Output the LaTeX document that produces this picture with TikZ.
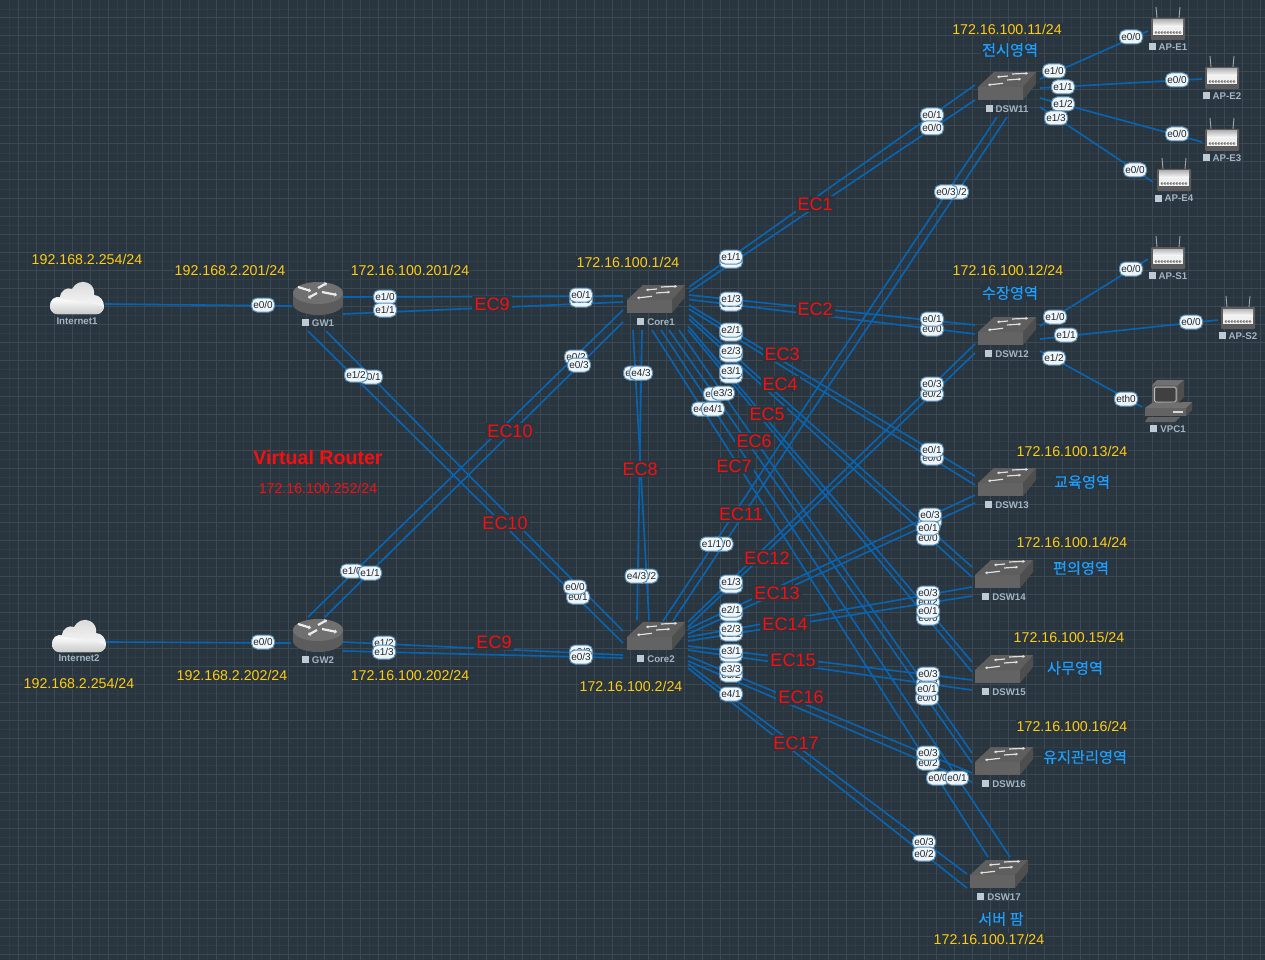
\documentclass[tikz,border=0pt]{standalone}
\usepackage{fontspec}
\setmainfont{Liberation Sans}
\newfontfamily\kr[FakeBold=0.35]{Noto Sans CJK KR}
\usetikzlibrary{calc,arrows.meta}
\definecolor{bg}{HTML}{2A363F}
\definecolor{gmin}{HTML}{303C46}
\definecolor{gmaj}{HTML}{3C4953}
\definecolor{linkc}{HTML}{0864B0}
\definecolor{yel}{HTML}{FFCB14}
\definecolor{blu}{HTML}{1E9EFF}
\definecolor{rd}{HTML}{F80E0E}
\definecolor{pillf}{HTML}{EEF6FD}
\definecolor{pilld}{HTML}{5C8FB5}
\definecolor{devt}{HTML}{A3B5C2}
\definecolor{sq}{HTML}{BFCAD2}
\definecolor{tops}{HTML}{5E5E5E}
\definecolor{front}{HTML}{636363}
\definecolor{sides}{HTML}{4E4E4E}
\definecolor{rtop}{HTML}{707070}
\definecolor{rbody}{HTML}{5C5C5C}
\definecolor{apb}{HTML}{5C5C5C}
\tikzset{
  link/.style={draw=linkc,line width=1.65pt},
  dev/.style={inner sep=0pt,minimum size=0pt},
  port/.style={draw=pilld,line width=1pt,fill=pillf,rounded corners=5.5pt,minimum width=23pt,minimum height=14pt,inner sep=0pt,font=\fontsize{10}{11}\selectfont,text=black!85},
  devlab/.style={font=\fontsize{9.7}{10}\selectfont\bfseries,text=devt,inner sep=0pt},
  addr/.style={font=\fontsize{14.2}{15}\selectfont,text=yel,fill=bg,inner sep=1pt},
  area/.style={font=\fontsize{15.2}{16}\selectfont\kr,text=blu,fill=bg,inner sep=1pt},
  ec/.style={font=\fontsize{18}{19}\selectfont,text=rd,fill=bg,inner sep=2pt},
  wa/.style={white!88!black,line width=1.2pt,-{Stealth[length=2.6pt,width=3.2pt]}},
  ra/.style={white!92!black,line width=2.2pt,-{Stealth[length=2.5pt,width=4.5pt]}},
}
\newcommand\devlabel[3]{\node[devlab] (#1l) at (#2) {\textcolor{sq}{\rule{7pt}{7pt}}\hspace{3pt}#3};}
\newcommand\swdev[4]{%
  \node[dev] (#1) at (#2,#3) {};
  \begin{scope}[shift={(#2,#3)}]
    \fill[front] (-29,1) rectangle (16,14);
    \fill[sides] (16,1) -- (29,-14) -- (29,-2) -- (16,14) -- cycle;
    \fill[tops] (-29,1) -- (-13,-14) -- (29,-14) -- (16,1) -- cycle;
    \draw[wa] (1,-10) -- (-10,-9);
    \draw[wa] (5,-12) -- (21,-12.7);
    \draw[wa] (0,-6) -- (14,-7);
    \draw[wa] (-4,-2.7) -- (-19,-1);
  \end{scope}
  \devlabel{#1}{#2,#3+23}{#4}}
\newcommand\rtdev[4]{%
  \node[dev] (#1) at (#2,#3) {};
  \begin{scope}[shift={(#2,#3)}]
    \fill[rbody] (-25,-6) -- (-25,5) .. controls (-25,11) and (-14,16) .. (0,16) .. controls (14,16) and (25,11) .. (25,5) -- (25,-6) -- cycle;
    \fill[rtop] (0,-6) ellipse[x radius=25,y radius=11];
    \draw[ra] (-20,-12) -- (-7,-8);
    \draw[ra] (0,-11) -- (9,-16);
    \draw[ra] (4,-7) -- (19,-4);
    \draw[ra] (-1,-6) -- (-10,-1);
  \end{scope}
  \devlabel{#1}{#2,#3+24}{#4}}
\newcommand\apdev[4]{%
  \node[dev] (#1) at (#2,#3) {};
  \begin{scope}[shift={(#2,#3)}]
    \draw[gray!70,line width=0.9pt] (-11,-11) -- (-12,-22);
    \draw[gray!70,line width=0.9pt] (11,-11) -- (12,-22);
    \fill[apb,rounded corners=1pt] (-17,-11) rectangle (17,11);
    \shade[top color=gray!55,bottom color=white] (-15,-9) rectangle (15,-2);
    \fill[white!94!black] (-15,-2) rectangle (15,6);
    \foreach \cx in {-12,-9,...,12} {\draw[black!65,line width=0.5pt] (\cx,3.5) circle[radius=1.1];}
  \end{scope}
  \devlabel{#1}{#2,#3+18}{#4}}
\newcommand\cloudpath{(7,33) .. controls (2,33) and (0,28) .. (0,25) .. controls (0,19) and (5,15) .. (10,16) .. controls (11,9) and (17,6) .. (22,8) .. controls (25,2) and (32,-1) .. (38,2) .. controls (43,4) and (45,10) .. (44,14) .. controls (50,14) and (54,20) .. (54,25) .. controls (54,30) and (50,33) .. (47,33) -- cycle}
\newcommand\clouddev[6]{%
  \node[dev] (#1) at (#2,#3) {};
  \begin{scope}[shift={(#4,#5)}]
    \shade[top color=gray!30,bottom color=white] \cloudpath;
    \begin{scope}
      \clip \cloudpath;
      \shade[top color=white,bottom color=gray!45] (0,17) .. controls (18,19) and (38,20) .. (54,26) -- (54,34) -- (0,34) -- cycle;
    \end{scope}
  \end{scope}
  \node[devlab] (#1l) at (#2,#3+23) {#6};}
\newcommand\lk[6]{\draw[link] ($(#1)+(#2,#3)$) -- ($(#4)+(#5,#6)$);}
\newcommand\pt[3]{\node[port] at (#1,#2) {#3};}
\begin{document}
\begin{tikzpicture}[x=1pt,y=-1pt]
\useasboundingbox (0,0) rectangle (1265,960);
\fill[bg] (0,0) rectangle (1265,960);
\foreach \g in {9,27,...,1260} {\draw[gmin,line width=0.8pt] (\g,0) -- (\g,960);}
\foreach \g in {9,27,...,955} {\draw[gmin,line width=0.8pt] (0,\g) -- (1265,\g);}
\foreach \g in {18,36,...,1260} {\draw[gmaj,line width=1pt] (\g,0) -- (\g,960);}
\foreach \g in {18,36,...,955} {\draw[gmaj,line width=1pt] (0,\g) -- (1265,\g);}

% devices
\clouddev{Inet1}{77}{298}{50}{281}{Internet1}
\clouddev{Inet2}{79}{635}{52}{619}{Internet2}
\rtdev{GW1}{318}{299}{GW1}
\rtdev{GW2}{318}{636}{GW2}
\swdev{Core1}{656}{299}{Core1}
\swdev{Core2}{656}{636}{Core2}
\swdev{DSW11}{1007}{86}{DSW11}
\swdev{DSW12}{1007}{331}{DSW12}
\swdev{DSW13}{1007}{482}{DSW13}
\swdev{DSW14}{1004}{574}{DSW14}
\swdev{DSW15}{1004}{669}{DSW15}
\swdev{DSW16}{1004}{761}{DSW16}
\swdev{DSW17}{999}{874}{DSW17}
\apdev{APE1}{1168}{29}{AP-E1}
\apdev{APE2}{1222}{78}{AP-E2}
\apdev{APE3}{1222}{140}{AP-E3}
\apdev{APE4}{1174}{180}{AP-E4}
\apdev{APS1}{1168}{258}{AP-S1}
\apdev{APS2}{1238}{318}{AP-S2}
% VPC
\node[dev] (VPC1) at (1168,401) {};
\begin{scope}[shift={(1168,401)}]
  \fill[sides] (10,-16) -- (16,-21) -- (16,-4) -- (10,2) -- cycle;
  \fill[rtop] (-16,-16) -- (-11,-21) -- (16,-21) -- (10,-16) -- cycle;
  \fill[front] (-16,-16) rectangle (10,2);
  \draw[gray!55,line width=1pt,fill=rbody!70!black,rounded corners=1.5pt] (-13.5,-14) rectangle (8,1);
  \fill[sides] (18,7) -- (24,1) -- (24,9) -- (18,15) -- cycle;
  \fill[rtop] (-23,7) -- (-16,2) -- (24,1) -- (18,7) -- cycle;
  \fill[front] (-23,7) rectangle (18,15);
  \fill[white!85!black] (5,10) rectangle (15,12);
  \fill[front] (-20,16) -- (12,16) -- (7,21) -- (-23,21) -- cycle;
\end{scope}
\devlabel{VPC1}{1168,429}{VPC1}

% links
\lk{Inet1}{28}{6}{GW1}{-26}{7}
\lk{Inet2}{27}{7}{GW2}{-27}{7}
\lk{GW1}{25}{-2}{Core1}{-33}{-3}
\lk{GW1}{25}{15}{Core1}{-33}{3}
\lk{GW2}{25}{6}{Core2}{-33}{19}
\lk{GW2}{25}{15}{Core2}{-33}{22}
\lk{GW2}{-10}{-19}{Core1}{-33}{11}
\lk{GW2}{7}{-19}{Core1}{-33}{23}
\lk{GW1}{-10}{32}{Core2}{-33}{7}
\lk{GW1}{8}{32}{Core2}{-33}{-5}
\lk{Core1}{-23}{31}{Core2}{-7}{-16}
\lk{Core1}{-14}{31}{Core2}{-19}{-16}
\lk{Core1}{33}{-12}{DSW11}{-32}{-1}
\lk{Core1}{33}{-7}{DSW11}{-32}{14}
\lk{Core1}{33}{-4}{DSW12}{-32}{-6}
\lk{Core1}{33}{0.5}{DSW12}{-32}{3}
\lk{Core1}{33}{6}{DSW13}{-32}{-6}
\lk{Core1}{33}{10}{DSW13}{-32}{3}
\lk{Core1}{33}{16}{DSW14}{-32}{-7}
\lk{Core1}{33}{20}{DSW14}{-32}{3}
\lk{Core1}{32}{27}{DSW15}{-32}{-7}
\lk{Core1}{32}{31}{DSW15}{-32}{3}
\lk{Core1}{23}{31}{DSW16}{-32}{-8}
\lk{Core1}{13}{31}{DSW16}{-32}{2}
\lk{Core1}{5}{31}{DSW17}{11}{-17}
\lk{Core1}{-4}{31}{DSW17}{-11}{-17}
\lk{Core2}{7}{-15}{DSW11}{-10}{31}
\lk{Core2}{17}{-15}{DSW11}{0}{31}
\lk{Core2}{32}{-14}{DSW12}{-32}{13}
\lk{Core2}{32}{-9}{DSW12}{-32}{22}
\lk{Core2}{32}{-7}{DSW13}{-32}{13}
\lk{Core2}{32}{-2}{DSW13}{-32}{21}
\lk{Core2}{32}{1}{DSW14}{-32}{13}
\lk{Core2}{32}{5}{DSW14}{-32}{22}
\lk{Core2}{32}{10}{DSW15}{-32}{11}
\lk{Core2}{32}{14}{DSW15}{-32}{21}
\lk{Core2}{32}{20}{DSW16}{-32}{12}
\lk{Core2}{32}{25}{DSW16}{-32}{21}
\lk{Core2}{32}{28}{DSW17}{-32}{0}
\lk{Core2}{32}{32}{DSW17}{-32}{14}
\lk{DSW11}{33}{-7}{APE1}{-20}{2}
\lk{DSW11}{33}{2}{APE2}{-20}{1}
\lk{DSW11}{33}{12}{APE3}{-20}{2}
\lk{DSW11}{33}{21}{APE4}{-21}{2}
\lk{DSW12}{33}{-5}{APS1}{-20}{1}
\lk{DSW12}{33}{8}{APS2}{-20}{2}
\lk{DSW12}{33}{20}{VPC1}{-26}{6}

% EC labels
\node[ec] (ec1) at (815,204) {EC1};
\node[ec] (ec2) at (815,309) {EC2};
\node[ec] (ec3) at (782,354) {EC3};
\node[ec] (ec4) at (780,384) {EC4};
\node[ec] (ec5) at (767,414) {EC5};
\node[ec] (ec6) at (754,441) {EC6};
\node[ec] (ec7) at (734,466) {EC7};
\node[ec] (ec8) at (640,469) {EC8};
\node[ec] (ec9a) at (492,304) {EC9};
\node[ec] (ec9b) at (494,642) {EC9};
\node[ec] (ec10a) at (510,431) {EC10};
\node[ec] (ec10b) at (505,523) {EC10};
\node[ec] (ec11) at (741,514) {EC11};
\node[ec] (ec12) at (767,558) {EC12};
\node[ec] (ec13) at (777,593) {EC13};
\node[ec] (ec14) at (785,624) {EC14};
\node[ec] (ec15) at (793,660) {EC15};
\node[ec] (ec16) at (801,697) {EC16};
\node[ec] (ec17) at (796,743) {EC17};

% port labels
\pt{263}{305}{e0/0}\pt{263}{642}{e0/0}
\pt{385}{297}{e1/0}\pt{385}{310}{e1/1}
\pt{371}{377}{e0/1}\pt{356}{375}{e1/2}
\pt{352}{571}{e1/0}\pt{370}{573}{e1/1}
\pt{384}{643}{e1/2}\pt{384}{652}{e1/3}
\pt{581}{300}{e0/0}\pt{581}{295}{e0/1}
\pt{576}{357}{e0/2}\pt{579}{365}{e0/3}
\pt{578}{597}{e0/1}\pt{575}{587}{e0/0}
\pt{581}{652}{e0/2}\pt{581}{657}{e0/3}
\pt{635}{373}{e4/2}\pt{641}{373}{e4/3}
\pt{646.5}{576}{e4/2}\pt{636.5}{576}{e4/3}
\pt{731}{261}{e1/0}\pt{731}{257}{e1/1}
\pt{731}{304}{e1/2}\pt{731}{299}{e1/3}
\pt{731}{334}{e2/0}\pt{731}{330}{e2/1}
\pt{731}{355}{e2/2}\pt{731}{351}{e2/3}
\pt{731}{376}{e3/0}\pt{731}{371}{e3/1}
\pt{715}{394}{e3/2}\pt{723}{393}{e3/3}
\pt{703}{409}{e4/0}\pt{713}{409}{e4/1}
\pt{721.5}{544}{e1/0}\pt{711.5}{544}{e1/1}
\pt{731}{586}{e1/2}\pt{731}{582}{e1/3}
\pt{731}{614}{e2/0}\pt{731}{610}{e2/1}
\pt{731}{634}{e2/2}\pt{731}{629}{e2/3}
\pt{731}{655}{e3/0}\pt{731}{651}{e3/1}
\pt{731}{675}{e3/2}\pt{731}{669}{e3/3}
\pt{731}{694}{e4/1}
\pt{932}{115}{e0/1}\pt{932}{128}{e0/0}
\pt{957}{192}{e0/2}\pt{946}{192}{e0/3}
\pt{932}{329}{e0/0}\pt{932}{319}{e0/1}
\pt{932}{394}{e0/2}\pt{932}{384}{e0/3}
\pt{932}{458}{e0/0}\pt{932}{450}{e0/1}
\pt{930}{522}{e0/2}\pt{930}{515}{e0/3}
\pt{928}{538}{e0/0}\pt{928}{528}{e0/1}
\pt{928}{602}{e0/2}\pt{928}{593}{e0/3}
\pt{928}{618}{e0/0}\pt{928}{611}{e0/1}
\pt{928}{683}{e0/2}\pt{928}{674}{e0/3}
\pt{927}{698}{e0/0}\pt{927}{689}{e0/1}
\pt{928}{763}{e0/2}\pt{928}{753}{e0/3}
\pt{938}{778}{e0/0}\pt{957}{778}{e0/1}
\pt{924}{842}{e0/3}\pt{924}{854}{e0/2}
\pt{1054}{71}{e1/0}\pt{1063}{87}{e1/1}\pt{1063}{104}{e1/2}\pt{1056}{118}{e1/3}
\pt{1131}{37}{e0/0}\pt{1177}{80}{e0/0}\pt{1177}{134}{e0/0}\pt{1135}{170}{e0/0}
\pt{1055}{317}{e1/0}\pt{1066}{335}{e1/1}\pt{1054}{358}{e1/2}
\pt{1131}{269}{e0/0}\pt{1191}{322}{e0/0}\pt{1126}{399}{eth0}

% address labels
\node[addr] (a1) at (87,259) {192.168.2.254/24};
\node[addr] (a2) at (230,270) {192.168.2.201/24};
\node[addr] (a3) at (410,270) {172.16.100.201/24};
\node[addr] (a4) at (628,262) {172.16.100.1/24};
\node[addr] (a5) at (79,683) {192.168.2.254/24};
\node[addr] (a6) at (232,675) {192.168.2.202/24};
\node[addr] (a7) at (410,675) {172.16.100.202/24};
\node[addr] (a8) at (631,686) {172.16.100.2/24};
\node[addr] (a9) at (1007,29) {172.16.100.11/24};
\node[addr] (a10) at (1008,270) {172.16.100.12/24};
\node[addr] (a11) at (1072,451) {172.16.100.13/24};
\node[addr] (a12) at (1072,542) {172.16.100.14/24};
\node[addr] (a13) at (1069,637) {172.16.100.15/24};
\node[addr] (a14) at (1072,726) {172.16.100.16/24};
\node[addr] (a15) at (989,939) {172.16.100.17/24};
% area labels
\node[area] (k1) at (1010,50) {전시영역};
\node[area] (k2) at (1010,293) {수장영역};
\node[area] (k3) at (1082,482) {교육영역};
\node[area] (k4) at (1081,568) {편의영역};
\node[area] (k5) at (1075,668) {사무영역};
\node[area] (k6) at (1085,757) {유지관리영역};
\node[area] (k7) at (1001,919) {서버 팜};
\node[text=rd,inner sep=0pt,font=\fontsize{19.6}{21}\selectfont\bfseries] (vr) at (318,457) {Virtual Router};
\node[text=rd,inner sep=0pt,font=\fontsize{14.2}{15}\selectfont] (vrip) at (318,488) {172.16.100.252/24};
\end{tikzpicture}
\end{document}
